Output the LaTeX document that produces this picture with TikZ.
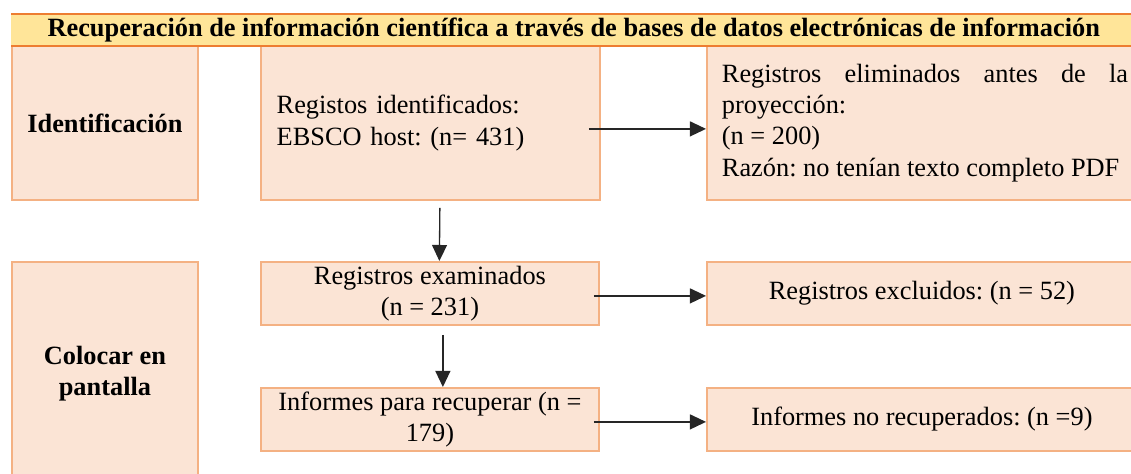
\documentclass[tikz,border=0pt]{standalone}
\usepackage{fontspec}
\setmainfont{Liberation Serif}
\usetikzlibrary{arrows.meta}
\definecolor{cajafondo}{HTML}{FBE4D5}
\definecolor{cajaborde}{HTML}{F4B183}
\definecolor{titulofondo}{HTML}{FFE599}
\definecolor{titulolinea}{HTML}{ED7D31}
\frenchspacing
\begin{document}
\begin{tikzpicture}[x=0.016cm,y=-0.016cm,font=\fontsize{12}{14.2}\selectfont,
	caja/.style={draw=cajaborde,fill=cajafondo,line width=0.9pt,anchor=north west,inner xsep=6.8pt},
	fila/.style={caja,minimum height=1.008cm,inner ysep=0.5pt,align=center},
	flecha/.style={-{Triangle[length=7.3pt,width=6.8pt]},line width=0.6pt,black!85}]
	\useasboundingbox (0,0) rectangle (1131,473);
	%\draw[help lines,step=100] (0,0) grid (1131,473);
	
	\node[anchor=north west,fill=titulofondo,minimum width=18cm,minimum height=0.496cm,inner sep=0pt,font=\fontsize{12}{14.2}\selectfont\bfseries] (titulo) at (11,14) {Recuperación de información científica a través de bases de datos electrónicas de información};
	
	\node[caja,minimum width=2.976cm,minimum height=2.464cm,font=\fontsize{12}{14.2}\selectfont\bfseries] (ident) at (11,45) {Identificación};
	\node[caja,minimum width=5.424cm,minimum height=2.464cm,text width=140pt,align=left] (idbox) at (260,45) {Registos identificados:\\EBSCO host: (n= 431)};
	\node[caja,minimum width=6.88cm,minimum height=2.464cm,text width=185pt,align=justify] (elimbox) at (706,45) {Registros eliminados antes de la proyección:\\(n = 200)\\Razón: no tenían texto completo PDF};
	
	\node[caja,minimum width=2.976cm,minimum height=3.584cm,align=center,font=\fontsize{12}{14.2}\selectfont\bfseries] (pantalla) at (11,261) {Colocar en\\pantalla};
	\node[fila,minimum width=5.408cm] (exambox) at (260,261) {Registros examinados\\(n = 231)};
	\node[fila,minimum width=5.408cm] (recupbox) at (260,387) {Informes para recuperar (n =\\179)};
	\node[fila,minimum width=6.88cm] (exclbox) at (706,261) {Registros excluidos: (n = 52)};
	\node[fila,minimum width=6.88cm] (norecbox) at (706,387) {Informes no recuperados: (n =9)};
	
	\draw[titulolinea,line width=1pt] (titulo.north west) -- (titulo.north east) (titulo.south west) -- (titulo.south east);
	
	\draw[flecha] ([xshift=-5.5pt,yshift=-2.7pt]idbox.east) -- ([yshift=-2.7pt]elimbox.west);
	\draw[flecha] ([xshift=4.3pt,yshift=-3.2pt]idbox.south) -- ([xshift=4.3pt]exambox.north);
	\draw[flecha] ([xshift=-2.7pt,yshift=-1.1pt]exambox.east) -- ([yshift=-1.1pt]exclbox.west);
	\draw[flecha] ([xshift=5.9pt,yshift=-4.1pt]exambox.south) -- ([xshift=5.9pt]recupbox.north);
	\draw[flecha] ([xshift=-2.7pt,yshift=-1.1pt]recupbox.east) -- ([yshift=-1.1pt]norecbox.west);
\end{tikzpicture}
\end{document}
